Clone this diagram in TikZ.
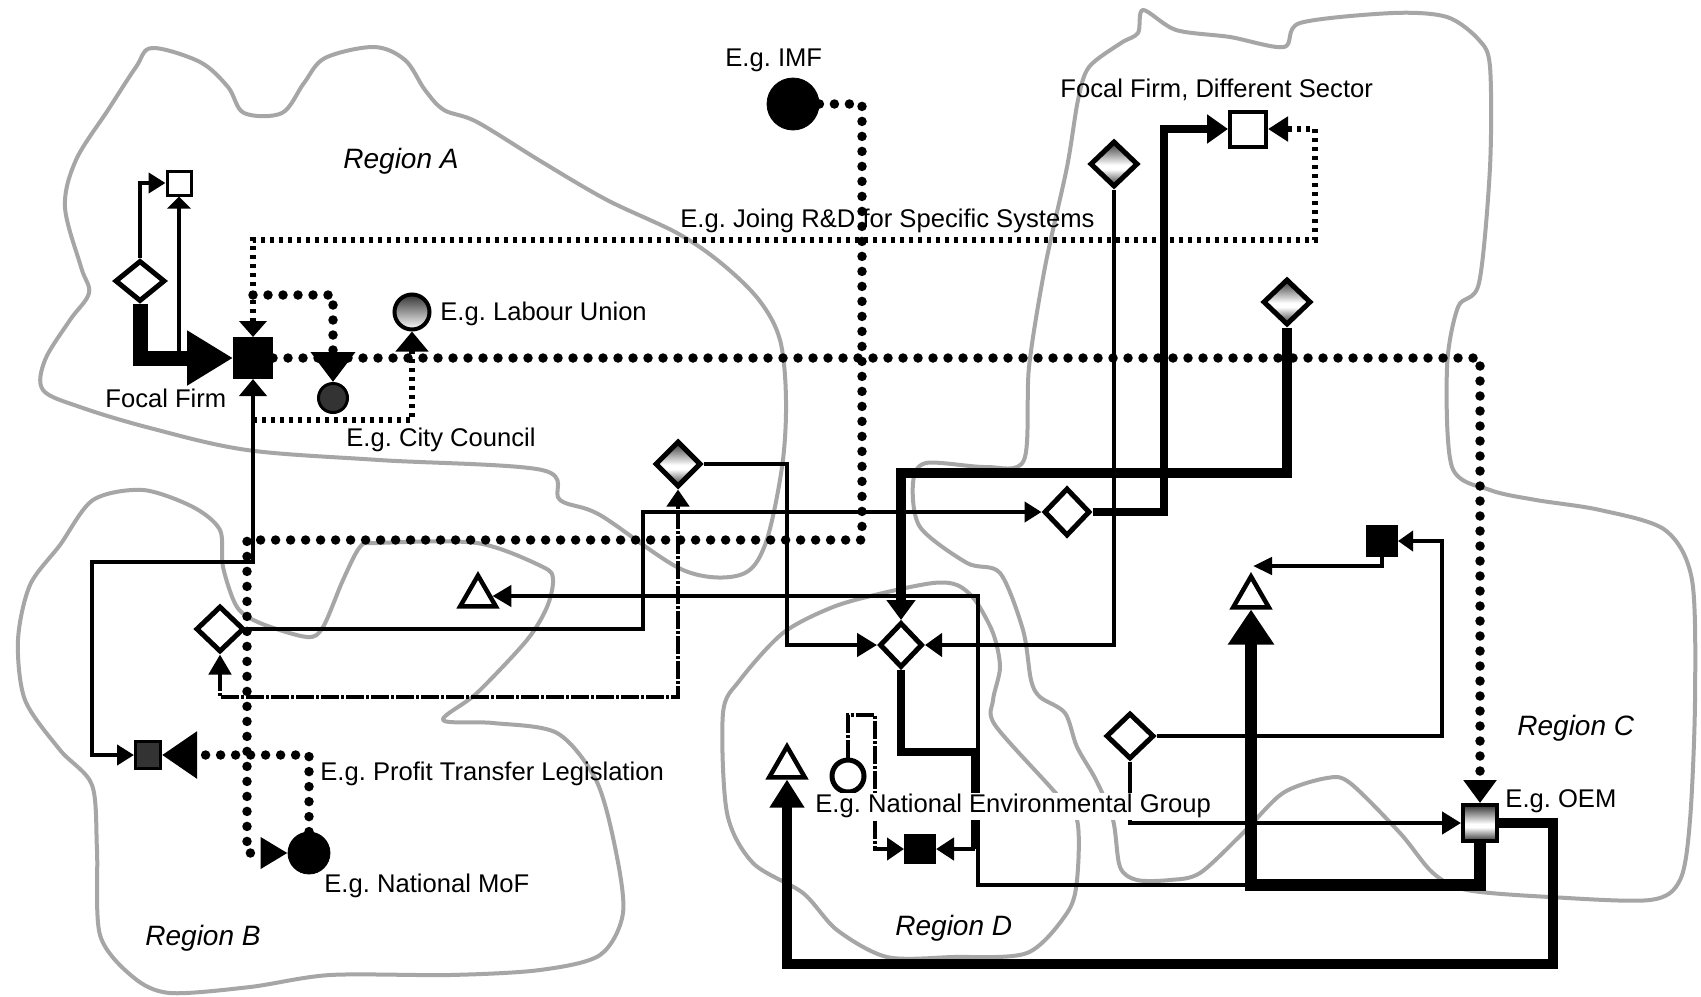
\documentclass[tikz,border=0pt]{standalone}
\usepackage{fontspec}
\setmainfont{Liberation Sans}
\usetikzlibrary{arrows.meta,shapes.geometric}
\pgfdeclareverticalshading{tube}{100bp}{color(0bp)=(black!80); color(25bp)=(black!80); color(44bp)=(white); color(49bp)=(white); color(75bp)=(black!80); color(100bp)=(black!80)}
\begin{document}
\frenchspacing
\begin{tikzpicture}[x=0.5pt,y=-0.5pt,
  region/.style={draw=black!35, line width=2pt, line join=round},
  lbl/.style={font=\fontsize{12.8}{15}\selectfont, inner sep=0pt, anchor=base west},
  rlbl/.style={font=\fontsize{14}{16}\selectfont\itshape, inner sep=0pt, anchor=base west},
  thinln/.style={line width=2.25pt},
  medln/.style={line width=3.75pt},
  thickln/.style={line width=5.25pt},
  heavyln/.style={line width=6pt},
  vthickln/.style={line width=7.5pt},
  hdot/.style={line width=4.75pt, dash pattern=on 0pt off 7.5pt, line cap=round},
  fdot/.style={line width=3pt, dash pattern=on 2pt off 2.5pt},
  ddot/.style={line width=2.25pt, dash pattern=on 9pt off 1pt on 1.5pt off 1pt},
  bsq/.style={rectangle, draw, fill=black, inner sep=0pt, line width=1pt},
  wsq/.style={rectangle, draw, fill=white, inner sep=0pt, line width=2pt},
  wdia/.style={diamond, draw, fill=white, inner sep=0pt, line width=2.5pt, minimum width=24pt, minimum height=23pt},
  gdia/.style={wdia, shade, shading=tube},
  wtri/.style={regular polygon, regular polygon sides=3, draw, fill=white, inner sep=0pt, line width=2.25pt, minimum size=20.5pt},
  circnode/.style={circle, draw, inner sep=0pt},
]
\fill[white] (0,0) rectangle (1701,996);
\useasboundingbox (0,0) rectangle (1701,996);

% ---------- regions ----------
\draw[region] plot[smooth cycle, tension=0.55] coordinates {
 (152,48) (200,62) (228,87) (244,113) (282,113) (304,83) (325,58) (374,47) (405,60) (425,90)
 (444,110) (477,122) (542,162) (607,200) (677,233) (721,263) (759,300) (780,340) (786,400)
 (782,467) (765,545) (740,575) (683,570) (600,515) (560,500) (542,470) (379,460) (247,450)
 (150,428) (80,407) (43,390) (45,360) (70,320) (89,293) (81,267) (65,207) (76,160) (108,110) (136,67)};
\draw[region] plot[smooth cycle, tension=0.5] coordinates {
 (93,500) (143,490) (193,507) (220,530) (223,567) (237,607) (260,623) (307,637) (323,627)
 (343,580) (360,547) (377,543) (477,543) (543,567) (553,580) (547,607) (527,640) (477,693)
 (443,720) (493,723) (557,733) (596,780) (615,847) (623,913) (600,955) (540,970) (450,975)
 (330,975) (250,987) (170,993) (133,977) (100,935) (97,850) (92,785) (60,750) (25,700)
 (18,640) (30,585) (60,545)};
\draw[region] plot[smooth cycle, tension=0.5] coordinates {
 (1143,10) (1176,30) (1230,37) (1284,47) (1300,23) (1393,13) (1447,17) (1479,40) (1490,67)
 (1490,167) (1479,283) (1458,307) (1447,367) (1452,467) (1490,490) (1536,500) (1600,510)
 (1665,530) (1692,580) (1695,700) (1690,820) (1680,880) (1650,900) (1550,897) (1467,890)
 (1433,873) (1400,833) (1350,783) (1327,778) (1283,793) (1243,833) (1200,873) (1170,880)
 (1137,880) (1120,867) (1113,820) (1096,780) (1077,747) (1065,713) (1040,697) (1031,680)
 (1023,630) (1000,573) (967,563) (920,527) (913,483) (926,463) (986,467) (1024,460)
 (1029,367) (1045,267) (1067,167) (1078,100) (1089,67) (1121,43) (1138,33)};
\draw[region] plot[smooth cycle, tension=0.5] coordinates {
 (740,680) (783,633) (833,607) (883,593) (933,583) (957,585) (975,600) (993,633) (1000,667)
 (993,700) (995,725) (1053,790) (1077,820) (1077,880) (1067,913) (1027,953) (953,957)
 (887,957) (837,930) (803,893) (753,863) (727,813) (723,713)};

% ---------- nodes ----------
\node[bsq, minimum width=19pt, minimum height=20pt] (FF) at (253,358) {};
\node[wsq, line width=1.5pt, minimum size=12pt] (S1) at (179,183) {};
\node[wdia, minimum width=25pt, minimum height=20.5pt] (L1) at (140,281) {};
\node[circnode, line width=2pt, minimum size=17.5pt, top color=black!80, bottom color=white] (LU) at (412,312) {};
\node[circnode, line width=1.5pt, minimum size=14.5pt, fill=black!80] (CC) at (333,398) {};
\node[circnode, fill=black, minimum size=26pt] (IMF) at (793,104) {};
\node[wsq, minimum width=18pt, minimum height=17.5pt] (FFDS) at (1248,129) {};
\node[gdia] (G2) at (1114,164) {};
\node[gdia] (G3) at (1287,302) {};
\node[gdia, minimum width=23pt] (G1) at (678,464) {};
\node[wdia, minimum width=23pt, minimum height=24pt] (D3) at (1067,512) {};
\node[wdia] (L2) at (220,629) {};
\node[wtri] (T1) at (478,596) {};
\node[wdia, minimum width=21.5pt, minimum height=22.5pt] (CD) at (901,645) {};
\node[bsq, fill=black!80, line width=1.5pt, minimum width=12.5pt, minimum height=13.5pt] (B1) at (148,755) {};
\node[circnode, fill=black, minimum size=21pt] (MoF) at (309,853) {};
\node[circnode, fill=white, line width=2.5pt, minimum size=16pt] (C2) at (848,776) {};
\node[wtri] (T3) at (787,767) {};
\node[bsq, minimum width=15pt, minimum height=14pt] (B2) at (920,849) {};
\node[wdia] (D4) at (1130,736) {};
\node[wtri] (T2) at (1251,597) {};
\node[bsq, minimum size=15pt] (B3) at (1382,541) {};
\node[wsq, minimum width=17pt, minimum height=18pt, shade, shading=tube] (OEM) at (1480,823) {};

\coordinate (jS) at (179,358);
\coordinate (jCC) at (253,295);
\coordinate (jLU) at (253,420);
\coordinate (jB2) at (975,849);
\coordinate (jT) at (1251,885);
\coordinate (T2in) at (1253,566);

% ---------- connectors ----------
\draw[thinln, -{Triangle[length=8.5pt,width=10pt]}] (L1.north) |- (S1.west);
\draw[thinln, -{Triangle[length=6pt,width=11.5pt]}] (jS) -- (S1.south);
\draw[vthickln, -{Triangle[length=23pt,width=26pt]}] (L1.south) |- (FF.west);

\draw[fdot, {Triangle[length=8pt,width=13.5pt]}-{Triangle[length=10pt,width=12pt]}] (FF.north) |- (1315,240) |- (FFDS.east);
\draw[hdot, -{Triangle[length=15pt,width=21.5pt]}] (jCC) -| (CC.north);
\draw[hdot, -{Triangle[length=11.5pt,width=16pt]}] (FF.east) -| (OEM.north);
\draw[fdot, -{Triangle[length=10pt,width=16pt]}] (jLU) -| (LU.south);
\draw[thinln, {Triangle[length=8.5pt,width=13.5pt]}-{Triangle[length=8.5pt,width=10pt]}] (FF.south) |- (92,562) |- (B1.west);

\draw[hdot, -{Triangle[length=13.5pt,width=15pt]}] (IMF.east) -| (862,540) -- (247,540) |- (MoF.west);
\draw[hdot, -{Triangle[length=17.5pt,width=22.5pt]}] (MoF.north) |- (B1.east);

\draw[thinln, -{Triangle[length=10pt,width=11.5pt]}] (G1.east) -| (787,645) -- (CD.west);
\draw[thinln, -{Triangle[length=8.5pt,width=11.5pt]}] (G2.south) |- (CD.east);
\draw[thickln, -{Triangle[length=10pt,width=14pt]}] (G3.south) |- (901,473) -- (CD.north);
\draw[medln] (CD.south) |- (975,752) -- (jB2);
\draw[thinln, -{Triangle[length=9pt,width=11pt]}] (jB2) -- (B2.east);
\draw[thinln, -{Triangle[length=9.5pt,width=10.5pt]}] (jT) -| (978,596) -- (T1.east);

\draw[thinln, -{Triangle[length=8.5pt,width=10pt]}] (L2.east) -| (643,512) -- (D3.west);
\draw[medln, -{Triangle[length=10.5pt,width=14pt]}] (D3.east) -| (1164,129) -- (FFDS.west);
\draw[ddot, {Triangle[length=10pt,width=11pt]}-{Triangle[length=8.5pt,width=11pt]}] (L2.south) |- (678,697) -- (G1.south);

\draw[thickln, -{Triangle[length=14pt,width=16.5pt]}] (OEM.east) -| (1553,964) -| (T3.south);
\draw[heavyln, -{Triangle[length=17.5pt,width=22pt]}] (OEM.south) |- (jT) -- (T2.south);
\draw[thinln, -{Triangle[length=9.5pt,width=8.5pt]}] (B3.south) |- (T2in);
\draw[thinln, -{Triangle[length=7.5pt,width=10pt]}] (D4.east) -| (1442,541) -- (B3.east);
\draw[thinln, -{Triangle[length=9.5pt,width=11pt]}] (D4.south) |- (OEM.west);
\draw[ddot, -{Triangle[length=8.5pt,width=11pt]}] (C2.north) |- (875,715) |- (B2.west);

% ---------- labels ----------
\node[lbl] (tIMF) at (725,66) {E.g. IMF};
\node[lbl] (tFFDS) at (1060,97) {Focal Firm, Different Sector};
\node[lbl] (tRD) at (680,227) {E.g. Joing R\&D for Specific Systems};
\node[lbl] (tLU) at (440,320) {E.g. Labour Union};
\node[lbl] (tFF) at (105,407) {Focal Firm};
\node[lbl] (tCC) at (346,446) {E.g. City Council};
\node[lbl] (tPTL) at (320,780) {E.g. Profit Transfer Legislation};
\node[lbl] (tMoF) at (324,892) {E.g. National MoF};
\node[lbl, fill=white, text height=9.6pt, text depth=4pt] (tNEG) at (815,812) {E.g. National Environmental Group};
\node[lbl] (tOEM) at (1505,807) {E.g. OEM};
\node[rlbl] (rA) at (343,168) {Region A};
\node[rlbl] (rB) at (145,945) {Region B};
\node[rlbl] (rC) at (1517,735) {Region C};
\node[rlbl] (rD) at (895,935) {Region D};
\end{tikzpicture}
\end{document}
